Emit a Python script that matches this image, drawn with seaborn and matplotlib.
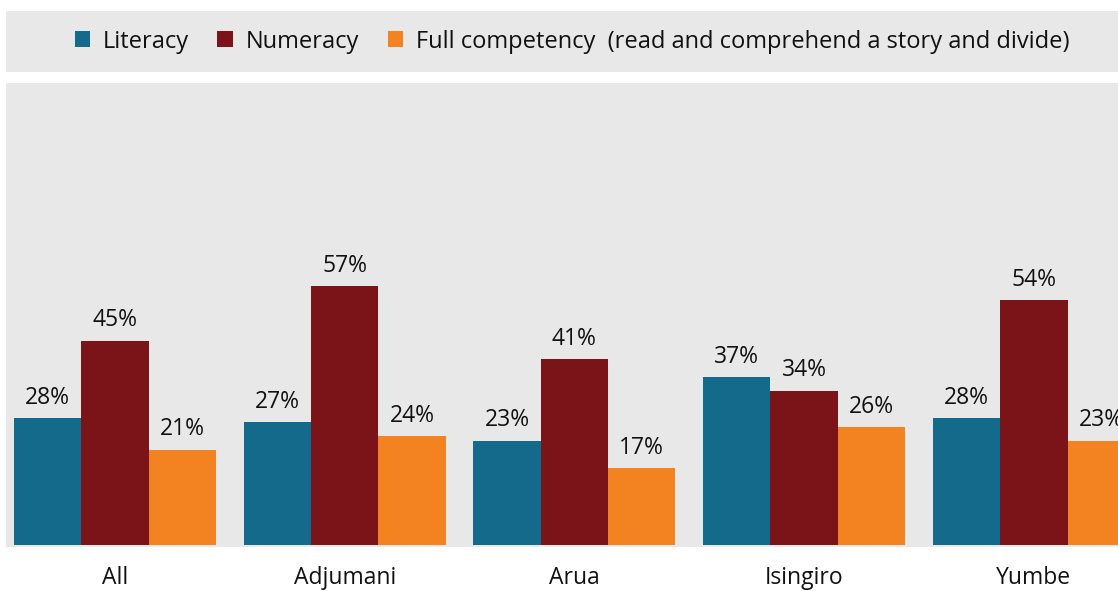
import matplotlib
matplotlib.use("Agg")
import matplotlib.pyplot as plt
import matplotlib.patches as mpatches
import pandas as pd
import seaborn as sns

# Data
districts = ["All", "Adjumani", "Arua", "Isingiro", "Yumbe"]
literacy = [28, 27, 23, 37, 28]
numeracy = [45, 57, 41, 34, 54]
full_competency = [21, 24, 17, 26, 23]
series_names = ["Literacy", "Numeracy", "Full competency  (read and comprehend a story and divide)"]
series_colors = ["#136A8A", "#7B1418", "#F38320"]

df = pd.DataFrame({
    "district": districts * 3,
    "series": [series_names[0]] * 5 + [series_names[1]] * 5 + [series_names[2]] * 5,
    "value": literacy + numeracy + full_competency,
})

sns.set_theme(style="white")
plt.rcParams["font.family"] = ["Open Sans", "DejaVu Sans"]

bg = "#E8E8E8"
W, H = 1118, 591
fig = plt.figure(figsize=(W / 100, H / 100), dpi=100)

# legend panel
fig.patches.append(mpatches.Rectangle((6 / W, 1 - 72 / H), 1 - 6 / W, 61 / H,
                                      transform=fig.transFigure, facecolor=bg,
                                      edgecolor="none", zorder=0))

# plot panel
ax = fig.add_axes([6 / W, (H - 547) / H, 1 - 6 / W, (547 - 83) / H])
ax.set_facecolor(bg)
sns.barplot(data=df, x="district", y="value", hue="series", palette=series_colors,
            width=0.88, saturation=1, linewidth=0, ax=ax, legend=False)

for cont in ax.containers:
    ax.bar_label(cont, fmt="%d%%", padding=6, fontsize=16.5, color="#111111")

ax.set_xlim(-0.474, 4.366)
ax.set_ylim(-0.44, 101.8)
ax.set_yticks([])
ax.set_xlabel("")
ax.set_ylabel("")
ax.tick_params(axis="x", length=0, pad=14, labelsize=16.5, labelcolor="#111111")
for s in ax.spines.values():
    s.set_visible(False)

handles = [mpatches.Patch(facecolor=c, edgecolor="none") for c in series_colors]
fig.legend(handles, series_names, loc="center", bbox_to_anchor=(572 / W, 1 - 41.5 / H),
           ncol=3, frameon=False, fontsize=17, handlelength=0.65, handleheight=0.65,
           handletextpad=0.55, columnspacing=1.2, labelcolor="#111111")

fig.savefig("out.png", dpi=100, facecolor="white")
